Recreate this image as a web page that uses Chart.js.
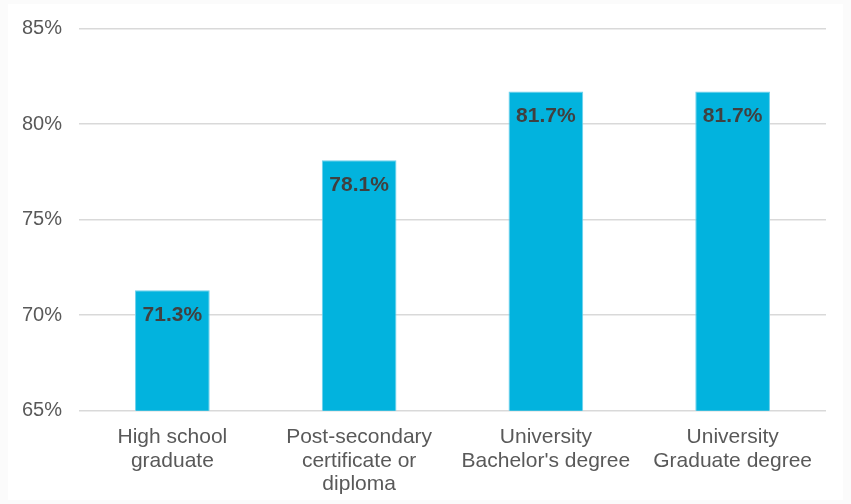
<!DOCTYPE html>
<html>
<head>
<meta charset="utf-8">
<script src="https://cdn.jsdelivr.net/npm/chart.js@4"></script>
<style>
  html, body { margin: 0; padding: 0; background: #fbfbfb; }
  .box { position: absolute; left: 8px; top: 4px; width: 835px; height: 496px; background: #fff; }
</style>
</head>
<body>
<div class="box"><canvas id="chart" width="835" height="496"></canvas></div>
<script>
// education level vs. rate
var categories = [
    ['High school', 'graduate'],
    ['Post-secondary', 'certificate or', 'diploma'],
    ['University', "Bachelor's degree"],
    ['University', 'Graduate degree']
];
var rates = [71.3, 78.1, 81.7, 81.7];
var yTicks = [65, 70, 75, 80, 85];

var FONT = '"Liberation Sans", Arial, sans-serif';

// value labels printed just inside the top of each bar
var barLabels = {
    id: 'barLabels',
    afterDatasetsDraw(chart) {
        var ctx = chart.ctx;
        var meta = chart.getDatasetMeta(0);
        ctx.save();
        ctx.font = 'bold 21px ' + FONT;
        ctx.fillStyle = '#404040';
        ctx.textAlign = 'center';
        ctx.textBaseline = 'middle';
        meta.data.forEach((bar, i) => {
            ctx.fillText(rates[i].toFixed(1) + '%', bar.x, bar.y + 25);
        });
        ctx.restore();
    }
};

new Chart(document.getElementById('chart'), {
    type: 'bar',
    data: {
        labels: categories,
        datasets: [{
            data: rates,
            backgroundColor: '#02b3de',
            borderColor: '#6fd0ec',
            borderWidth: 1,
            barPercentage: 0.4,
            categoryPercentage: 1
        }]
    },
    options: {
        responsive: false,
        animation: false,
        layout: { padding: { left: 13, right: 17, top: 24.5, bottom: 0 } },
        plugins: {
            legend: { display: false },
            tooltip: { enabled: false }
        },
        scales: {
            x: {
                grid: { display: false },
                border: { display: false },
                afterFit(axis) { axis.height = 89.3; },
                ticks: {
                    color: '#595959',
                    font: { family: FONT, size: 21, lineHeight: 1.12 },
                    padding: 7,
                    maxRotation: 0
                }
            },
            y: {
                min: yTicks[0],
                max: yTicks[yTicks.length - 1],
                afterBuildTicks(axis) {
                    axis.ticks = yTicks.map(v => ({ value: v }));
                },
                afterFit(axis) {
                    axis.width = 58;
                    axis.paddingTop = 0;
                    axis.paddingBottom = 0;
                },
                grid: { color: '#d9d9d9', lineWidth: 1.5, drawTicks: false },
                border: { display: false },
                ticks: {
                    color: '#595959',
                    font: { family: FONT, size: 20 },
                    padding: 17,
                    callback: v => v + '%'
                }
            }
        }
    },
    plugins: [barLabels]
});
</script>
</body>
</html>
